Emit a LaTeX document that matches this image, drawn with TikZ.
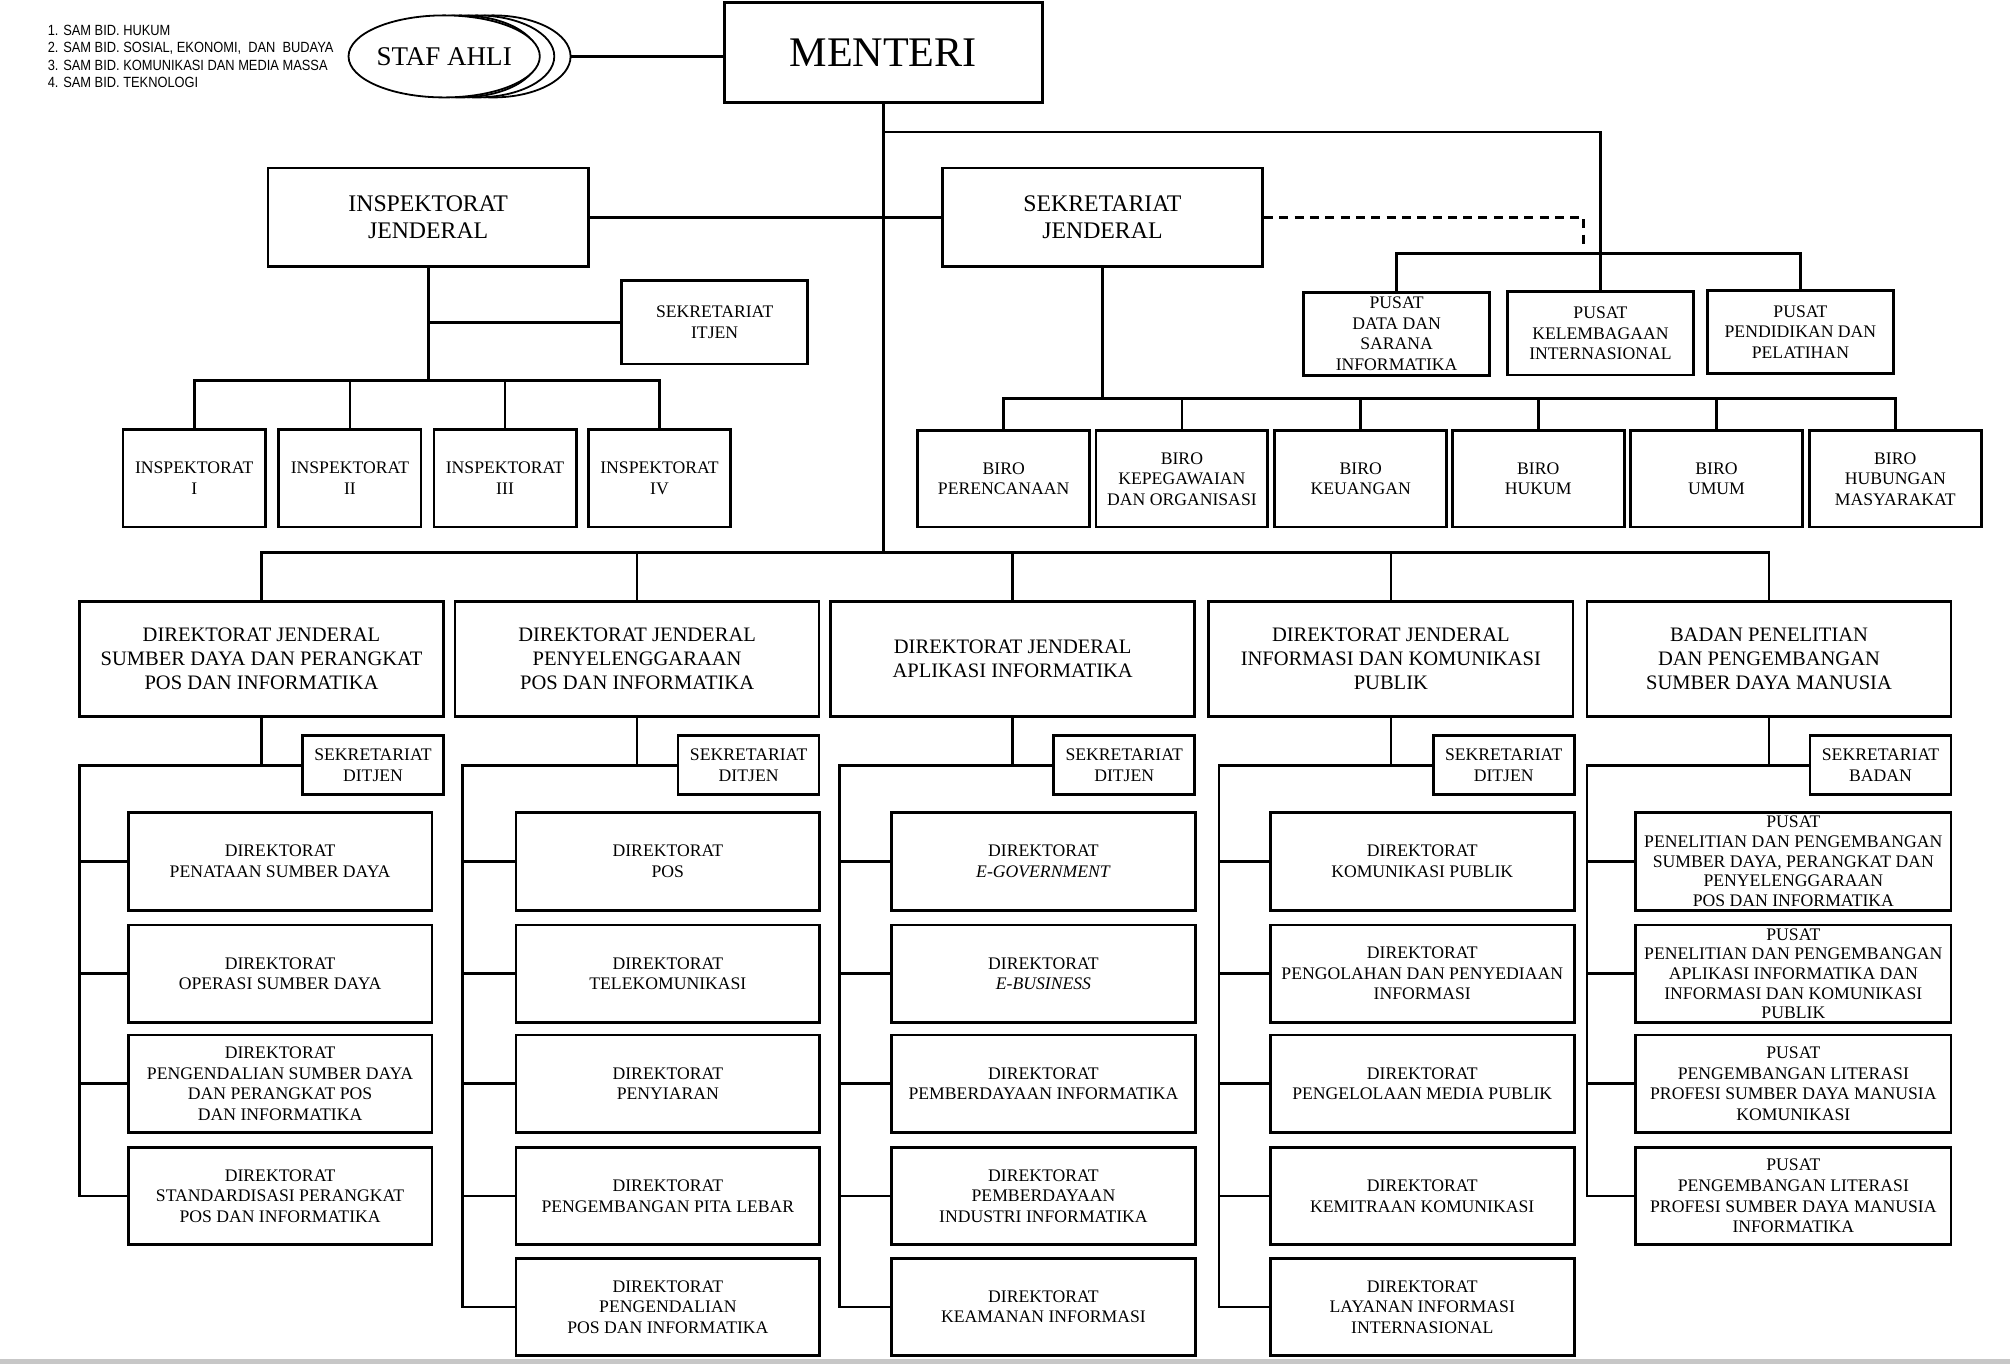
\documentclass[tikz,border=0pt]{standalone}
\usepackage{fontspec}
\setmainfont{Liberation Serif}
\newfontfamily\legendfont[FakeStretch=0.87]{Liberation Sans}
\usetikzlibrary{
  shapes.geometric,
  positioning,
  calc
}
\tikzset{
  org/.style={draw, line width=1.5pt, inner sep=0pt, align=center, fill=white},
  sz/.style 2 args={minimum width=#1*0.25mm, minimum height=#2*0.25mm},
  unit/.style={org, font=\fontsize{9.8}{11.4}\selectfont},
  unit tight/.style={org, font=\fontsize{9.8}{10.9}\selectfont},
  eselon/.style={org, sz={250}{77}, font=\fontsize{13.2}{15}\selectfont},
  dirjen/.style={org, sz={284}{90}, font=\fontsize{11.4}{13.5}\selectfont},
  staf/.style={ellipse, draw, line width=1pt, fill=white, inner sep=0pt,
    minimum width=121*0.25mm, minimum height=64*0.25mm},
  link/.style={line width=1.5pt},
  dashlink/.style={line width=1.5pt, dash pattern=on 5pt off 3.5pt}
}

\begin{document}
\begin{tikzpicture}[x=0.25mm, y=-0.25mm]
\useasboundingbox (0,0) rectangle (1568,1064);
\fill[black!22] (0,1060) rectangle (1568,1064);

% staf ahli dan menteri
\node[anchor=north west, align=left, inner sep=0pt,
  font=\legendfont\fontsize{8.2}{9.6}\selectfont] (legend) at (37,19.5)
  {1. SAM BID. HUKUM\\2. SAM BID. SOSIAL, EKONOMI,\ \ DAN\ \ BUDAYA\\
   3. SAM BID. KOMUNIKASI DAN MEDIA MASSA\\4. SAM BID. TEKNOLOGI};
\foreach \k in {3,2,1}
  \node[staf] (staf\k) at (346.5+12.7*\k,44) {};
\node[staf, font=\fontsize{15}{17}\selectfont] (staf) at (346.5,44) {STAF AHLI};
\node[org, sz={248}{78}, font=\fontsize{23.4}{26}\selectfont] (menteri) at (689,41) {MENTERI};
\draw[link] (staf3.east) -- (staf3.east -| menteri.west);

% eselon I atas
\node[eselon] (itjen) at (334,169.5) {INSPEKTORAT\\JENDERAL};
\node[eselon] (sekjen) at (860,169.5) {SEKRETARIAT\\JENDERAL};
\coordinate (trunk) at (689,432);
\coordinate (mbranch) at (689,103);
\draw[link] (menteri.south) -- (trunk);
\draw[link] (itjen.east) -- (sekjen.west);

% pusat di bawah menteri
\node[unit, sz={145}{65}] (pdata) at (1089.5,260.5) {PUSAT\\DATA DAN\\SARANA\\INFORMATIKA};
\node[unit, sz={145}{65}] (plemb) at (1248.5,260) {PUSAT\\KELEMBAGAAN\\INTERNASIONAL};
\node[unit, sz={145}{65}] (pdik) at (1404.5,259) {PUSAT\\PENDIDIKAN DAN\\PELATIHAN};
\draw[link] (mbranch) -| (plemb.north);
\draw[link] (pdata.north) -- ++(0,-29) -| (pdik.north);
\draw[dashlink] (sekjen.east) -| ($(plemb.north)+(-13,-33)$);

% biro
\node[unit, sz={134}{75}] (biro1) at (783,373.5) {BIRO\\PERENCANAAN};
\node[unit, sz={134}{75}] (biro2) at (922,373.5) {BIRO\\KEPEGAWAIAN\\DAN ORGANISASI};
\node[unit, sz={134}{75}] (biro3) at (1061.5,373.5) {BIRO\\KEUANGAN};
\node[unit, sz={134}{75}] (biro4) at (1200,373.5) {BIRO\\HUKUM};
\node[unit, sz={134}{75}] (biro5) at (1339,373.5) {BIRO\\UMUM};
\node[unit, sz={134}{75}] (biro6) at (1478.5,373.5) {BIRO\\HUBUNGAN\\MASYARAKAT};
\draw[link] (biro1.north) -- ++(0,-24) coordinate (bbar) -| (biro6.north);
\foreach \i in {2,...,5}
  \draw[link] (biro\i.north) -- ++(0,-24);
\draw[link] (sekjen.south) -- (sekjen.south |- bbar);

% inspektorat
\node[unit, sz={145}{65}] (setitjen) at (557.5,251.5) {SEKRETARIAT\\ITJEN};
\node[unit, sz={111}{76}] (insp1) at (151.5,373) {INSPEKTORAT\\I};
\node[unit, sz={111}{76}] (insp2) at (273,373) {INSPEKTORAT\\II};
\node[unit, sz={111}{76}] (insp3) at (394,373) {INSPEKTORAT\\III};
\node[unit, sz={111}{76}] (insp4) at (514.5,373) {INSPEKTORAT\\IV};
\draw[link] (insp1.north) -- ++(0,-37) coordinate (ibar) -| (insp4.north);
\foreach \i in {2,3}
  \draw[link] (insp\i.north) -- ++(0,-37);
\draw[link] (itjen.south) -- (itjen.south |- ibar);
\draw[link] (setitjen.west) -- (setitjen.west -| itjen.south);

% direktorat jenderal dan badan
\node[dirjen] (dj1) at (204,514) {DIREKTORAT JENDERAL\\SUMBER DAYA DAN PERANGKAT\\POS DAN INFORMATIKA};
\node[dirjen] (dj2) at (497,514) {DIREKTORAT JENDERAL\\PENYELENGGARAAN\\POS DAN INFORMATIKA};
\node[dirjen] (dj3) at (790,514) {DIREKTORAT JENDERAL\\APLIKASI INFORMATIKA};
\node[dirjen] (dj4) at (1085,514) {DIREKTORAT JENDERAL\\INFORMASI DAN KOMUNIKASI\\PUBLIK};
\node[dirjen] (dj5) at (1380,514) {BADAN PENELITIAN\\DAN PENGEMBANGAN\\SUMBER DAYA MANUSIA};
\draw[link] (dj1.north) -- ++(0,-37) -| (dj5.north);
\foreach \i in {2,3,4}
  \draw[link] (dj\i.north) -- ++(0,-37);

% sekretariat tiap kolom
\node[unit, sz={110}{46}] (set1) at (291,597) {SEKRETARIAT\\DITJEN};
\node[unit, sz={110}{46}] (set2) at (584,597) {SEKRETARIAT\\DITJEN};
\node[unit, sz={110}{46}] (set3) at (877,597) {SEKRETARIAT\\DITJEN};
\node[unit, sz={110}{46}] (set4) at (1173,597) {SEKRETARIAT\\DITJEN};
\node[unit, sz={110}{46}] (set5) at (1467,597) {SEKRETARIAT\\BADAN};
\coordinate (sp1) at (62,597);
\coordinate (sp2) at (361,597);
\coordinate (sp3) at (655,597);
\coordinate (sp4) at (951,597);
\coordinate (sp5) at (1238,597);

% kolom 1
\node[unit, sz={237}{76}] (d11) at (218.5,672) {DIREKTORAT\\PENATAAN SUMBER DAYA};
\node[unit, sz={237}{76}] (d12) at (218.5,759.5) {DIREKTORAT\\OPERASI SUMBER DAYA};
\node[unit, sz={237}{76}] (d13) at (218.5,845.5) {DIREKTORAT\\PENGENDALIAN SUMBER DAYA\\DAN PERANGKAT POS\\DAN INFORMATIKA};
\node[unit, sz={237}{76}] (d14) at (218.5,933) {DIREKTORAT\\STANDARDISASI PERANGKAT\\POS DAN INFORMATIKA};

% kolom 2
\node[unit, sz={237}{76}] (d21) at (521,672) {DIREKTORAT\\POS};
\node[unit, sz={237}{76}] (d22) at (521,759.5) {DIREKTORAT\\TELEKOMUNIKASI};
\node[unit, sz={237}{76}] (d23) at (521,845.5) {DIREKTORAT\\PENYIARAN};
\node[unit, sz={237}{76}] (d24) at (521,933) {DIREKTORAT\\PENGEMBANGAN PITA LEBAR};
\node[unit, sz={237}{76}] (d25) at (521,1019.5) {DIREKTORAT\\PENGENDALIAN\\POS DAN INFORMATIKA};

% kolom 3
\node[unit, sz={237}{76}] (d31) at (814,672) {DIREKTORAT\\\textit{E-GOVERNMENT}};
\node[unit, sz={237}{76}] (d32) at (814,759.5) {DIREKTORAT\\\textit{E-BUSINESS}};
\node[unit, sz={237}{76}] (d33) at (814,845.5) {DIREKTORAT\\PEMBERDAYAAN INFORMATIKA};
\node[unit, sz={237}{76}] (d34) at (814,933) {DIREKTORAT\\PEMBERDAYAAN\\INDUSTRI INFORMATIKA};
\node[unit, sz={237}{76}] (d35) at (814,1019.5) {DIREKTORAT\\KEAMANAN INFORMASI};

% kolom 4
\node[unit, sz={237}{76}] (d41) at (1109.5,672) {DIREKTORAT\\KOMUNIKASI PUBLIK};
\node[unit, sz={237}{76}] (d42) at (1109.5,759.5) {DIREKTORAT\\PENGOLAHAN DAN PENYEDIAAN\\INFORMASI};
\node[unit, sz={237}{76}] (d43) at (1109.5,845.5) {DIREKTORAT\\PENGELOLAAN MEDIA PUBLIK};
\node[unit, sz={237}{76}] (d44) at (1109.5,933) {DIREKTORAT\\KEMITRAAN KOMUNIKASI};
\node[unit, sz={237}{76}] (d45) at (1109.5,1019.5) {DIREKTORAT\\LAYANAN INFORMASI\\INTERNASIONAL};

% kolom 5 (badan)
\node[unit tight, sz={246}{76}] (d51) at (1399,672) {PUSAT\\PENELITIAN DAN PENGEMBANGAN\\SUMBER DAYA, PERANGKAT DAN\\PENYELENGGARAAN\\POS DAN INFORMATIKA};
\node[unit tight, sz={246}{76}] (d52) at (1399,759.5) {PUSAT\\PENELITIAN DAN PENGEMBANGAN\\APLIKASI INFORMATIKA DAN\\INFORMASI DAN KOMUNIKASI\\PUBLIK};
\node[unit, sz={246}{76}] (d53) at (1399,845.5) {PUSAT\\PENGEMBANGAN LITERASI\\PROFESI SUMBER DAYA MANUSIA\\KOMUNIKASI};
\node[unit, sz={246}{76}] (d54) at (1399,933) {PUSAT\\PENGEMBANGAN LITERASI\\PROFESI SUMBER DAYA MANUSIA\\INFORMATIKA};

% garis kolom
\foreach \c/\last in {1/4,2/5,3/5,4/5,5/4} {
  \draw[link] (dj\c.south) -- (dj\c.south |- set\c.west);
  \draw[link] (set\c.west) -- (sp\c) |- (d\c\last.west);
  \foreach \r in {1,...,\last}
    \draw[link] (d\c\r.west) -- (d\c\r.west -| sp\c);
}
\end{tikzpicture}
\end{document}
